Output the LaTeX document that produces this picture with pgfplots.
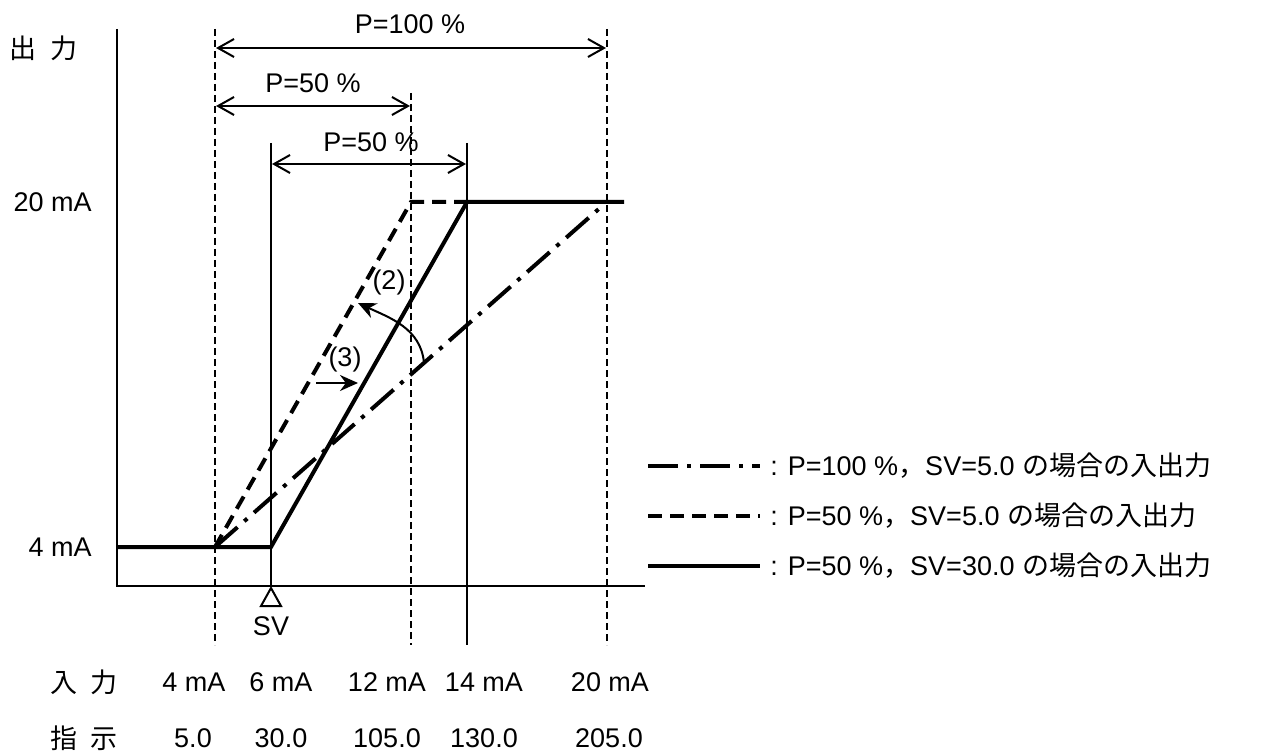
\documentclass[border=0pt]{standalone}
\usepackage{fontspec}
\setmainfont{Liberation Sans}
\newfontfamily\cjk{Noto Sans CJK JP}
\usepackage{pgfplots}
\pgfplotsset{compat=1.18}
\usetikzlibrary{arrows.meta}
\begin{document}
\begin{tikzpicture}[
  lab/.style={font=\fontsize{13.5}{16}\selectfont, inner sep=0pt},
  thinl/.style={line width=1pt},
  vdash/.style={line width=1pt, dash pattern=on 3.5pt off 2pt},
  dimarr/.style={line width=1pt, {Straight Barb[length=8pt,width=9pt]}-{Straight Barb[length=8pt,width=9pt]}},
  sdash/.style={line width=2pt, dash pattern=on 7pt off 4pt},
  sdashdot/.style={line width=2pt, dash pattern=on 15pt off 4.5pt on 2pt off 4.5pt},
  ssolid/.style={line width=2pt},
]
\begin{axis}[width=637pt,height=377pt,scale only axis,
  xmin=0,xmax=1274,ymin=0,ymax=754,y dir=reverse,hide axis,clip=false]

% invisible frame for the page size
\path (axis cs:0,0) rectangle (axis cs:1274,754);

% axes
\draw[thinl] (axis cs:117,29) -- (axis cs:117,586) -- (axis cs:645,586);

% vertical guide lines
\draw[vdash] (axis cs:215,29) -- (axis cs:215,645);
\draw[vdash] (axis cs:411,93) -- (axis cs:411,645);
\draw[vdash] (axis cs:607,29) -- (axis cs:607,645);
\draw[thinl] (axis cs:271,143) -- (axis cs:271,586);
\draw[thinl] (axis cs:467,143) -- (axis cs:467,645);

% dimension arrows
\draw[dimarr] (axis cs:216,48) -- (axis cs:606,48);
\draw[dimarr] (axis cs:216,106) -- (axis cs:410,106);
\draw[dimarr] (axis cs:272,164) -- (axis cs:466,164);
\node[lab] at (axis cs:410,24) {P=100 \%};
\node[lab] at (axis cs:313,83) {P=50 \%};
\node[lab] at (axis cs:371,142) {P=50 \%};

% data series
\addplot[sdashdot] coordinates {(215,547) (601,207)};
\addplot[sdash] coordinates {(215,547) (411,202) (467,202)};
\addplot[ssolid] coordinates {(117,547) (271,547) (467,202) (624,202)};

% annotations
\draw[thinl,-{Stealth[length=9pt,width=8pt]}] (axis cs:424,363) to[out=95,in=-25] (axis cs:358,303);
\node[lab] at (axis cs:389,283) {(2)};
\draw[thinl,-{Stealth[length=9pt,width=8pt]}] (axis cs:316,383) -- (axis cs:358,383);
\node[lab] at (axis cs:345,360) {(3)};

% SV marker
\draw[thinl,fill=white] (axis cs:271,588) -- (axis cs:261,606) -- (axis cs:281,606) -- cycle;
\node[lab] at (axis cs:271,626) {SV};

% y labels
\node[lab] at (axis cs:44,48) {\cjk 出\hspace{7pt}力};
\node[lab,anchor=east] at (axis cs:92,202) {20 mA};
\node[lab,anchor=east] at (axis cs:92,547) {4 mA};

% x labels
\node[lab] at (axis cs:84,682) {\cjk 入\hspace{7pt}力};
\node[lab] at (axis cs:194,682) {4 mA};
\node[lab] at (axis cs:281,682) {6 mA};
\node[lab] at (axis cs:387,682) {12 mA};
\node[lab] at (axis cs:484,682) {14 mA};
\node[lab] at (axis cs:610,682) {20 mA};
\node[lab] at (axis cs:84,738) {\cjk 指\hspace{7pt}示};
\node[lab] at (axis cs:193,738) {5.0};
\node[lab] at (axis cs:281,738) {30.0};
\node[lab] at (axis cs:387,738) {105.0};
\node[lab] at (axis cs:484,738) {130.0};
\node[lab] at (axis cs:609,738) {205.0};

% legend
\draw[sdashdot] (axis cs:648,466) -- (axis cs:760,466);
\draw[sdash] (axis cs:648,516) -- (axis cs:760,516);
\draw[ssolid] (axis cs:648,566) -- (axis cs:760,566);
\node[lab,anchor=west] at (axis cs:770,466) {: P=100 \%{\cjk ，}SV=5.0 {\cjk の場合の入出力}};
\node[lab,anchor=west] at (axis cs:770,516) {: P=50 \%{\cjk ，}SV=5.0 {\cjk の場合の入出力}};
\node[lab,anchor=west] at (axis cs:770,566) {: P=50 \%{\cjk ，}SV=30.0 {\cjk の場合の入出力}};
\end{axis}
\end{tikzpicture}
\end{document}
